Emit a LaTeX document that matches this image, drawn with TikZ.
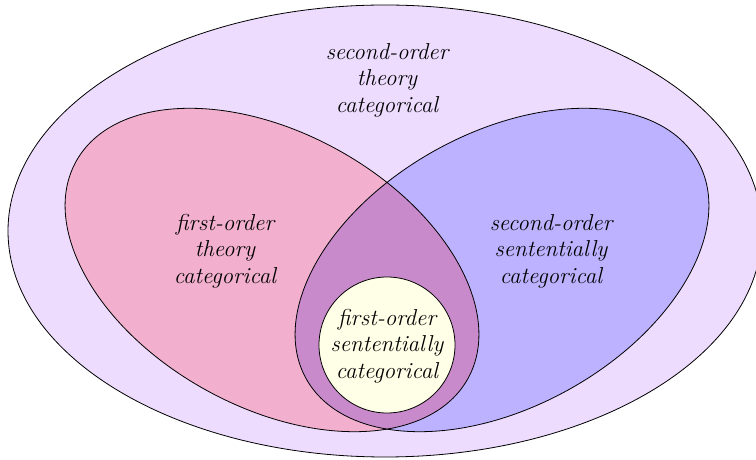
\documentclass[tikz,border=0pt]{standalone}
\definecolor{outerc}{HTML}{EEDCFF}
\definecolor{leftc}{HTML}{F2B0CE}
\definecolor{rightc}{HTML}{BDB2FF}
\definecolor{lensc}{HTML}{C98ACB}
\definecolor{innerc}{HTML}{FFFFE8}
\begin{document}
\begin{tikzpicture}[x=0.5pt,y=0.5pt,
  lbl/.style={align=center,font=\fontsize{11.5}{13.2}\selectfont\itshape,inner sep=0pt},
  outl/.style={draw=black,line width=0.4pt}]
\useasboundingbox (0,0) rectangle (756,460);
\begin{scope}
\clip (0,0) rectangle (756,460);
\fill[outerc] (385,229) ellipse [x radius=377,y radius=226];
\draw[outl] (385,229) ellipse [x radius=377,y radius=226];
\end{scope}
\fill[leftc] (272,190) ellipse [x radius=224,y radius=137,rotate=-29];
\fill[rightc] (502,190) ellipse [x radius=224,y radius=137,rotate=29];
\begin{scope}
\clip (502,190) ellipse [x radius=224,y radius=137,rotate=29];
\fill[lensc] (272,190) ellipse [x radius=224,y radius=137,rotate=-29];
\end{scope}
\draw[outl] (272,190) ellipse [x radius=224,y radius=137,rotate=-29];
\draw[outl] (502,190) ellipse [x radius=224,y radius=137,rotate=29];
\draw[outl,fill=innerc] (387,115) circle [radius=68];
\node[lbl] (so) at (387,380) {second-order\\theory\\categorical};
\node[lbl] (fo) at (225,209) {first-order\\theory\\categorical};
\node[lbl] (ss) at (551,209) {second-order\\sententially\\categorical};
\node[lbl] (fs) at (387,114) {first-order\\sententially\\categorical};
\end{tikzpicture}
\end{document}
